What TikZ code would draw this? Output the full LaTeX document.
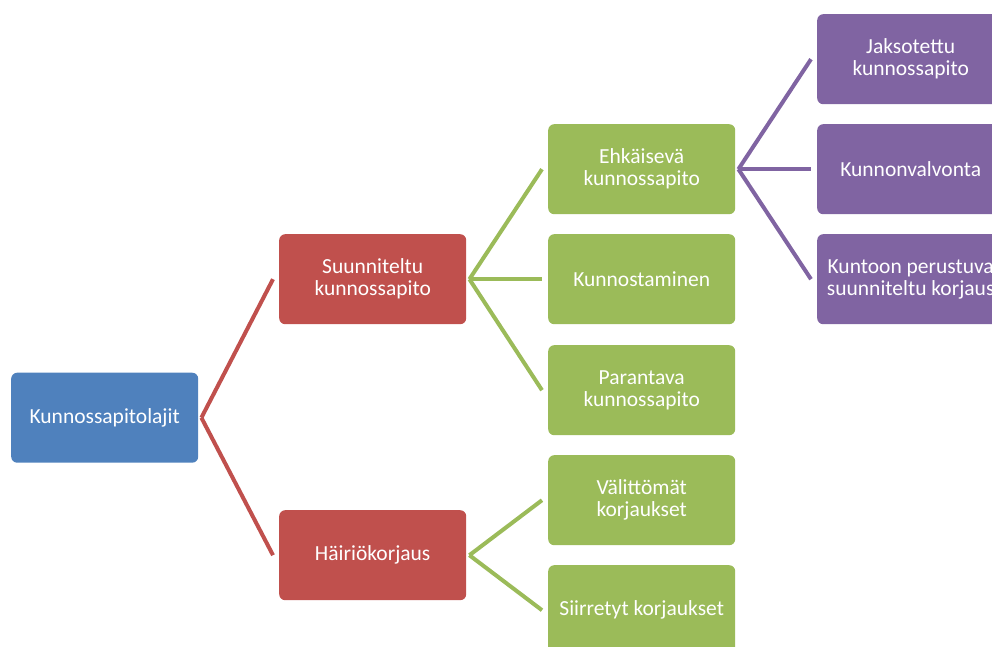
\documentclass[tikz,border=0pt]{standalone}
\usepackage{fontspec}
\setmainfont{Carlito}
\definecolor{cblue}{HTML}{4F81BD}
\definecolor{cred}{HTML}{C0504D}
\definecolor{cgreen}{HTML}{9BBB59}
\definecolor{cpurple}{HTML}{8064A2}
\tikzset{
  box/.style={rectangle, rounded corners=6pt, minimum width=187pt, minimum height=90pt,
    inner sep=0pt, text=white, align=center, font=\fontsize{21.5}{22}\selectfont, anchor=north west},
  bluebox/.style={box, fill=cblue},
  redbox/.style={box, fill=cred},
  greenbox/.style={box, fill=cgreen},
  purplebox/.style={box, fill=cpurple},
  conn/.style={line width=4pt, line join=miter},
}
\begin{document}
\begin{tikzpicture}[x=1pt,y=-1pt]
\useasboundingbox (0,0) rectangle (992,647);
\clip (0,0) rectangle (992,647);
\node[bluebox] (k) at (11,372.5) {Kunnossapitolajit};
\node[redbox] (s) at (279,234) {Suunniteltu\\kunnossapito};
\node[redbox] (h) at (279,510) {Häiriökorjaus};
\node[greenbox] (e) at (548,124) {Ehkäisevä\\kunnossapito};
\node[greenbox] (ku) at (548,234) {Kunnostaminen};
\node[greenbox] (p) at (548,345) {Parantava\\kunnossapito};
\node[greenbox] (v) at (548,455) {Välittömät\\korjaukset};
\node[greenbox] (si) at (548,565) {Siirretyt korjaukset};
\node[purplebox] (j) at (817,14) {Jaksotettu\\kunnossapito};
\node[purplebox] (kv) at (817,124) {Kunnonvalvonta};
\node[purplebox] (kp) at (817,234) {Kuntoon perustuva\\suunniteltu korjaus};
\foreach \c in {s,h}
  \draw[conn, cred] ([xshift=3pt]k.east) -- ([xshift=-6pt]\c.west);
\foreach \c in {e,ku,p}
  \draw[conn, cgreen] ([xshift=3pt]s.east) -- ([xshift=-6pt]\c.west);
\foreach \c in {v,si}
  \draw[conn, cgreen] ([xshift=3pt]h.east) -- ([xshift=-6pt]\c.west);
\foreach \c in {j,kv,kp}
  \draw[conn, cpurple] ([xshift=3pt]e.east) -- ([xshift=-6pt]\c.west);
\end{tikzpicture}
\end{document}
